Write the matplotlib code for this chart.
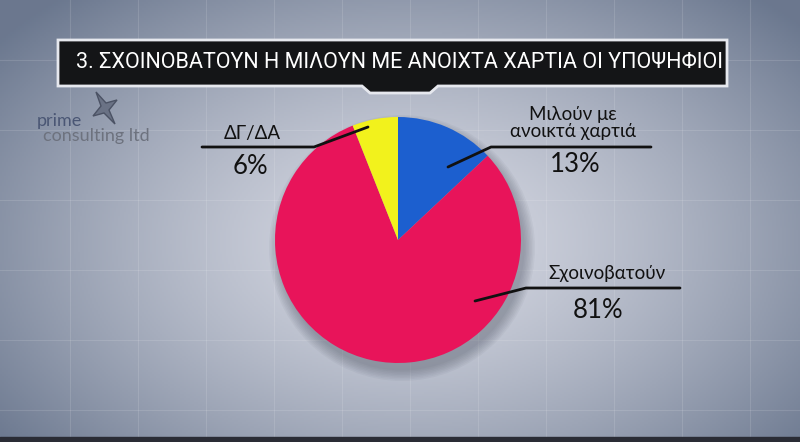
import numpy as np
import matplotlib
matplotlib.use("Agg")
from matplotlib import pyplot as plt
from matplotlib.patches import Polygon, Circle

title = "3. ΣΧΟΙΝΟΒΑΤΟΥΝ Η ΜΙΛΟΥΝ ΜΕ ΑΝΟΙΧΤΑ ΧΑΡΤΙΑ ΟΙ ΥΠΟΨΗΦΙΟΙ"
categories = ["Μιλούν με\nανοικτά χαρτιά", "Σχοινοβατούν", "ΔΓ/ΔΑ"]
values = [13, 81, 6]
pct_labels = ["13%", "81%", "6%"]
colors = ["#1c5fcf", "#e8145a", "#f2f21c"]

W, H = 800, 442


def Y(y):
    # pixel row -> data y (origin at bottom)
    return H - y


fig = plt.figure(figsize=(8, 4.42), dpi=100)
ax = fig.add_axes([0, 0, 1, 1])

# radial background
xx, yy = np.meshgrid(np.linspace(0, W, 400), np.linspace(0, H, 221))
r = np.sqrt(((xx - 410) / 520) ** 2 + ((yy - 200) / 330) ** 2)
r = np.clip(r, 0, 1) ** 1.4
c_in = np.array([0.84, 0.85, 0.89])
c_out = np.array([0.42, 0.47, 0.56])
img = c_in[None, None, :] * (1 - r[..., None]) + c_out[None, None, :] * r[..., None]
ax.imshow(img, extent=[0, W, 0, H], origin="lower", aspect="auto", zorder=0)

# faint grid
for gx in range(70, W, 68):
    ax.plot([gx, gx], [0, H], color="white", alpha=0.12, lw=0.8, zorder=1)
for gy in [60, 130, 200, 270, 340, 410]:
    ax.plot([0, W], [Y(gy), Y(gy)], color="white", alpha=0.12, lw=0.8, zorder=1)

# bottom dark strip
ax.fill_between([0, W], 0, 5, color="#2a2c35", zorder=2)

# title bar
box = Polygon([(58, Y(40)), (727, Y(40)), (727, Y(86)), (438, Y(86)), (430, Y(93)),
               (370, Y(93)), (362, Y(86)), (58, Y(86))], closed=True,
              facecolor="#141517", edgecolor="#e6e8ee", lw=2, zorder=5)
ax.add_patch(box)
ax.text(400, Y(63), title, color="white", fontsize=15.5, ha="center", va="center",
        family="Roboto", zorder=6)

# logo
ax.add_patch(Polygon([(96, Y(92)), (106, Y(103)), (117, Y(100)), (109, Y(110)),
                      (115, Y(124)), (104, Y(113)), (93, Y(116)), (101, Y(106))],
                     closed=True, facecolor="#6a7285", edgecolor="#4b5264", lw=1, zorder=3))
ax.text(37, Y(121), "prime", color="#4a5674", fontsize=13, ha="left", va="center",
        family="Lato", zorder=3)
ax.text(43, Y(136), "consulting ltd", color="#6d727e", fontsize=13, ha="left", va="center",
        family="Lato", zorder=3)

# pie shadow
cx, cy, rad = 398, Y(240), 123
for k in range(8):
    ax.add_patch(Circle((cx + 4, cy - 8), rad + 10 - k * 1.5, facecolor="#404656",
                        alpha=0.05, lw=0, zorder=3))

wedges, _ = ax.pie(values, colors=colors, startangle=90, counterclock=False,
                   center=(cx, cy), radius=rad, frame=True,
                   wedgeprops=dict(linewidth=0, zorder=4))
for w in wedges:
    w.set_zorder(4)

# leader lines
lines = [
    [(448, 167), (491, 147), (651, 147)],
    [(475, 301), (526, 288), (680, 288)],
    [(368, 127), (314, 147), (202, 147)],
]
for pts in lines:
    ax.plot([p[0] for p in pts], [Y(p[1]) for p in pts], color="#111111", lw=2,
            solid_capstyle="round", zorder=7)

label_pos = [(573, 123), (607, 273), (252, 134)]
pct_pos = [(575, 165), (598, 311), (250, 167)]
for name, pct, (lx, ly), (px, py) in zip(categories, pct_labels, label_pos, pct_pos):
    ax.text(lx, Y(ly), name, fontsize=13.5, ha="center", va="center", color="#111111",
            linespacing=1.05, family="Lato", zorder=7)
    ax.text(px, Y(py), pct, fontsize=18.5, ha="center", va="center", color="#111111",
            family="Lato", zorder=7)

ax.set_xlim(0, W)
ax.set_ylim(0, H)
ax.axis("off")

fig.savefig("out.png", dpi=100)
